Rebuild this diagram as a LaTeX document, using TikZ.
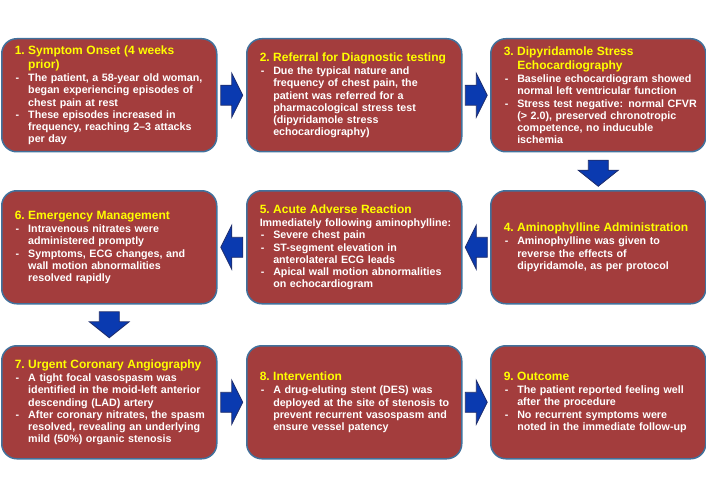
\documentclass[tikz,border=0pt]{standalone}
\usepackage{fontspec}
\setmainfont{Liberation Sans}
\usetikzlibrary{calc}
\definecolor{boxfill}{HTML}{A33D3D}
\definecolor{boxline}{HTML}{41719C}
\definecolor{ttlcol}{HTML}{FFFF00}
\definecolor{arrfill}{HTML}{0A3AB0}
\definecolor{arrline}{HTML}{1F2D6B}
\newlength{\hangw}\setlength{\hangw}{13.5pt}
\newcommand{\ttl}[2]{{\fontsize{12}{14}\selectfont\color{ttlcol}\leftskip=19.5pt\noindent\hspace*{-\hangw}\makebox[\hangw][l]{#1}#2\par}\vspace{1.1pt}}
\newcommand{\itm}[1]{{\leftskip=19.5pt\noindent\hspace*{-\hangw}\makebox[\hangw][l]{\hspace{1pt}-}#1\par}}
\newcommand{\pln}[1]{{\leftskip=6pt\noindent #1\par}}
\newcommand{\rarr}[1]{\begin{scope}[shift={(#1)}]\draw[blockarrow] (-11,-10) -- (0,-10) -- (0,-22) -- (11,0) -- (0,22) -- (0,10) -- (-11,10) -- cycle;\end{scope}}
\newcommand{\larr}[1]{\begin{scope}[shift={(#1)}]\draw[blockarrow] (11,-10) -- (0,-10) -- (0,-22) -- (-11,0) -- (0,22) -- (0,10) -- (11,10) -- cycle;\end{scope}}
\newcommand{\darr}[1]{\begin{scope}[shift={(#1)}]\draw[blockarrow] (-10,-13) -- (10,-13) -- (10,-3) -- (20,-3) -- (0,13) -- (-20,-3) -- (-10,-3) -- cycle;\end{scope}}
\begin{document}
\begin{tikzpicture}[x=1pt,y=-1pt,
  box/.style={draw=boxline, line width=1.5pt, fill=boxfill, rounded corners=15pt,
    minimum width=215pt, minimum height=113pt, text width=201pt, inner xsep=7pt,
    inner ysep=0pt, align=left, text=white,
    font=\bfseries\fontsize{10.7}{12.3}\selectfont, anchor=north west},
  blockarrow/.style={fill=arrfill, draw=arrline, line width=0.8pt, line join=miter}]
\useasboundingbox (0,0) rectangle (706,497);

\node[box] (b1) at (1,38) {\ttl{1.}{Symptom Onset (4 weeks\\prior)}
\itm{The patient, a 58-year old woman,\\began experiencing episodes of\\chest pain at rest}
\itm{These episodes increased in\\frequency, reaching 2--3 attacks\\per day}};

\node[box] (b2) at (246,38) {\ttl{2.}{Referral for Diagnostic testing}
\itm{Due the typical nature and\\frequency of chest pain, the\\patient was referred for a\\pharmacological stress test\\(dipyridamole stress\\echocardiography)}};

\node[box] (b3) at (490,38) {\ttl{3.}{Dipyridamole Stress\\Echocardiography}
\itm{Baseline echocardiogram showed\\normal left ventricular function}
\itm{Stress test negative: normal CFVR\\(> 2.0), preserved chronotropic\\competence, no inducuble\\ischemia}};

\node[box] (b4) at (490,190) {\ttl{4.}{Aminophylline Administration}
\itm{Aminophylline was given to\\reverse the effects of\\dipyridamole, as per protocol}};

\node[box] (b5) at (246,190) {\ttl{5.}{Acute Adverse Reaction}
\pln{Immediately following aminophylline:}
\itm{Severe chest pain}
\itm{ST-segment elevation in\\anterolateral ECG leads}
\itm{Apical wall motion abnormalities\\on echocardiogram}};

\node[box] (b6) at (1,190) {\ttl{6.}{Emergency Management}
\itm{Intravenous nitrates were\\administered promptly}
\itm{Symptoms, ECG changes, and\\wall motion abnormalities\\resolved rapidly}};

\node[box] (b7) at (1,345) {\ttl{7.}{Urgent Coronary Angiography}
\itm{A tight focal vasospasm was\\identified in the moid-left anterior\\descending (LAD) artery}
\itm{After coronary nitrates, the spasm\\resolved, revealing an underlying\\mild (50\%) organic stenosis}};

\node[box] (b8) at (246,345) {\ttl{8.}{Intervention}
\itm{A drug-eluting stent (DES) was\\deployed at the site of stenosis to\\prevent recurrent vasospasm and\\ensure vessel patency}};

\node[box] (b9) at (490,345) {\ttl{9.}{Outcome}
\itm{The patient reported feeling well\\after the procedure}
\itm{No recurrent symptoms were\\noted in the immediate follow-up}};

\coordinate (a12) at ($(b1.east)!0.5!(b2.west)$);
\coordinate (a23) at ($(b2.east)!0.5!(b3.west)$);
\coordinate (a34) at ($(b3.south)!0.5!(b4.north)+(0,2)$);
\coordinate (a45) at ($(b4.west)!0.5!(b5.east)$);
\coordinate (a56) at ($(b5.west)!0.5!(b6.east)$);
\coordinate (a67) at ($(b6.south)!0.5!(b7.north)$);
\coordinate (a78) at ($(b7.east)!0.5!(b8.west)$);
\coordinate (a89) at ($(b8.east)!0.5!(b9.west)$);
\rarr{a12}
\rarr{a23}
\darr{a34}
\larr{a45}
\larr{a56}
\darr{a67}
\rarr{a78}
\rarr{a89}
\end{tikzpicture}
\end{document}
